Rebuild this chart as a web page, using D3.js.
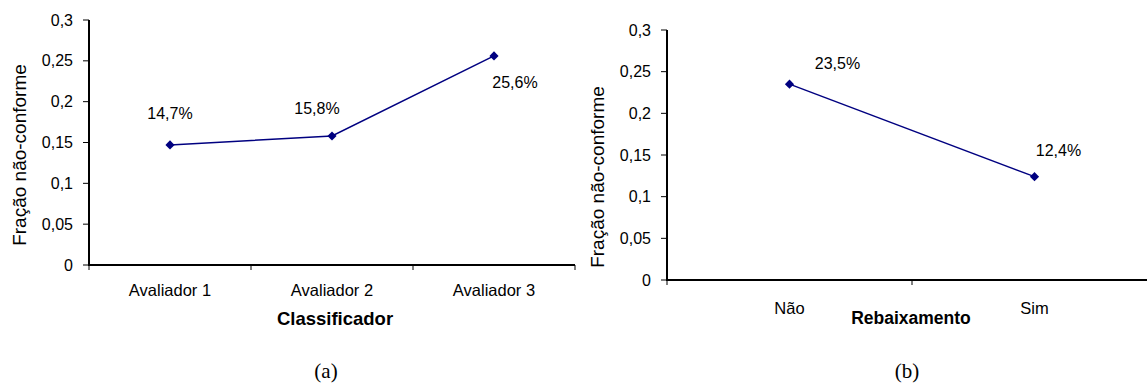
<!DOCTYPE html>
<html><head><meta charset="utf-8">
<script src="https://cdn.jsdelivr.net/npm/d3@7/dist/d3.min.js"></script>
<style>
html,body{margin:0;padding:0;background:#fff;}
svg{display:block;}
text{font-family:"Liberation Sans",Arial,sans-serif;fill:#000;}
</style></head>
<body>
<script>
// ---- data ----
const catsA = ["Avaliador 1", "Avaliador 2", "Avaliador 3"];
const valsA = [0.147, 0.158, 0.256];
const catsB = ["Não", "Sim"];
const valsB = [0.235, 0.124];
const yTicks = [0, 0.05, 0.1, 0.15, 0.2, 0.25, 0.3];
const yTitle = "Fração não-conforme";
const xTitleA = "Classificador";
const xTitleB = "Rebaixamento";
const captions = ["(a)", "(b)"];
// label offsets (layout only)
const offA = [[0, -26], [-15, -22], [21, 32]];
const offB = [[48, -15], [24, -21]];

const W = 1147, H = 392;
const svg = d3.select("body").append("svg").attr("width", W).attr("height", H);
const fmtY = v => String(v).replace(".", ",");
const fmtP = v => (v * 100).toFixed(1).replace(".", ",") + "%";

function panel(cfg) {
  const g = svg.append("g");
  const x = d3.scaleBand().domain(cfg.cats).range([cfg.x0, cfg.x1]);
  const y = d3.scaleLinear().domain([0, 0.3]).range([cfg.y0, cfg.y1]);

  // y ticks
  g.selectAll(".yt").data(yTicks).join("line")
    .attr("x1", cfg.x0 - 6).attr("x2", cfg.x0)
    .attr("y1", d => y(d)).attr("y2", d => y(d))
    .attr("stroke", "#000").attr("stroke-width", 1);
  g.selectAll(".yl").data(yTicks).join("text")
    .attr("x", cfg.x0 - 16).attr("y", d => y(d))
    .attr("dy", "0.35em").attr("text-anchor", "end")
    .style("font-size", "16px").text(fmtY);

  // x ticks at band boundaries
  const bounds = cfg.cats.map(c => x(c)).concat([x(cfg.cats[cfg.cats.length - 1]) + x.bandwidth()]);
  g.selectAll(".xt").data(bounds).join("line")
    .attr("x1", d => d).attr("x2", d => d)
    .attr("y1", cfg.y0).attr("y2", cfg.y0 + 5)
    .attr("stroke", "#000").attr("stroke-width", 1);

  // axes lines
  g.append("line").attr("x1", cfg.x0).attr("x2", cfg.x0)
    .attr("y1", cfg.y1).attr("y2", cfg.y0)
    .attr("stroke", "#000").attr("stroke-width", 2);
  g.append("line").attr("x1", cfg.x0 - 1).attr("x2", cfg.x1)
    .attr("y1", cfg.y0).attr("y2", cfg.y0)
    .attr("stroke", "#000").attr("stroke-width", 2);

  // x labels
  g.selectAll(".xl").data(cfg.cats).join("text")
    .attr("x", d => x(d) + x.bandwidth() / 2)
    .attr("y", cfg.y0 + cfg.xlY)
    .attr("text-anchor", "middle").style("font-size", "16.5px").text(d => d);

  // titles
  g.append("text").attr("x", cfg.xtX).attr("y", cfg.y0 + cfg.xtY)
    .attr("text-anchor", "middle").style("font-size", cfg.xtSize).style("font-weight", "bold")
    .text(cfg.xTitle);
  g.append("text")
    .attr("transform", `translate(${cfg.ytX},${cfg.ytY}) rotate(-90)`)
    .attr("text-anchor", "middle").attr("dy", "0.35em")
    .style("font-size", "19px").text(yTitle);

  // line
  const line = d3.line().x((d, i) => x(cfg.cats[i]) + x.bandwidth() / 2).y(d => y(d));
  g.append("path").datum(cfg.vals).attr("d", line)
    .attr("fill", "none").attr("stroke", "#000080").attr("stroke-width", 1.5);
  g.selectAll(".pt").data(cfg.vals).join("path")
    .attr("d", d3.symbol(d3.symbolSquare, 42)())
    .attr("transform", (d, i) => `translate(${x(cfg.cats[i]) + x.bandwidth() / 2},${y(d)}) rotate(45)`)
    .attr("fill", "#000080");
  g.selectAll(".dl").data(cfg.vals).join("text")
    .attr("x", (d, i) => x(cfg.cats[i]) + x.bandwidth() / 2 + cfg.off[i][0])
    .attr("y", (d, i) => y(d) + cfg.off[i][1])
    .attr("text-anchor", "middle").style("font-size", "16px").text(fmtP);

  g.append("text").attr("x", cfg.capX).attr("y", 378)
    .attr("text-anchor", "middle")
    .style("font-family", "'Liberation Serif','Times New Roman',serif").style("font-size", "21px")
    .text(cfg.caption);
}

panel({cats: catsA, vals: valsA, x0: 89, x1: 575, y0: 265, y1: 20, off: offA,
  xlY: 31, xTitle: xTitleA, xtX: 335, xtY: 60, xtSize: "18.5px", ytX: 19, ytY: 155, capX: 326, caption: captions[0]});
panel({cats: catsB, vals: valsB, x0: 667, x1: 1157, y0: 280, y1: 30, off: offB,
  xlY: 34, xTitle: xTitleB, xtX: 911, xtY: 44, xtSize: "17.5px", ytX: 597, ytY: 177, capX: 907, caption: captions[1]});
</script>
</body></html>
